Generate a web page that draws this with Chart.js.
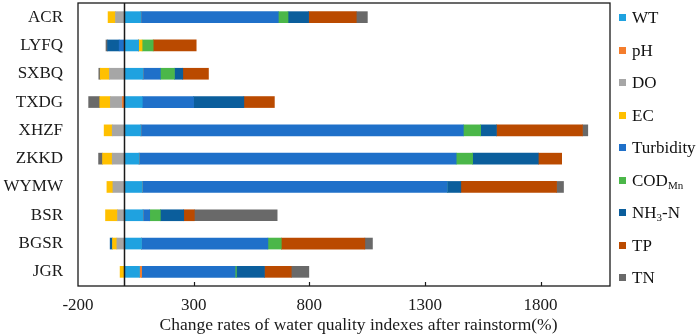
<!DOCTYPE html>
<html>
<head>
<meta charset="utf-8">
<script src="https://cdn.jsdelivr.net/npm/chart.js@4/dist/chart.umd.min.js"></script>
<style>
  html, body { margin: 0; padding: 0; background: #fff; }
  #wrap { position: relative; width: 699px; height: 336px; }
  #legend { position: absolute; left: 0; top: 0; }
  .lg-item { position: absolute; left: 619px; height: 20px; line-height: 20px; white-space: nowrap;
    font-family: "Liberation Serif", "Times New Roman", serif; font-size: 17px; color: #111; }
  .lg-box { display: inline-block; width: 7px; height: 7px; margin-right: 6px; vertical-align: 2px; }
  .lg-item sub { font-size: 11px; vertical-align: -3px; line-height: 0; }
</style>
</head>
<body>
<div id="wrap">
  <canvas id="chart" width="699" height="336"></canvas>
  <div id="legend"></div>
</div>
<script>
const sites = ['ACR', 'LYFQ', 'SXBQ', 'TXDG', 'XHZF', 'ZKKD', 'WYMW', 'BSR', 'BGSR', 'JGR'];
const xTicks = [-200, 300, 800, 1300, 1800];
const xTitle = 'Change rates of water quality indexes after rainstorm(%)';

const WT   = [72, 62, 81, 78, 72, 64, 78, 81, 75, 66];
const pH   = [0, 0, 0, -8, 0, 0, 0, 0, 0, 9];
const DO   = [-38, 0, -64, -52, -52, -52, -49, -29, -32, 0];
const EC   = [-32, 15, -40, -46, -35, -42, -26, -52, -19, -18];
const TURB = [594, -22, 75, 222, 1394, 1371, 1319, 29, 546, 404];
const COD  = [42, 48, 61, 0, 75, 71, 0, 46, 58, 6];
const NH3  = [89, -50, 36, 217, 68, 284, 58, 101, -10, 121];
const TP   = [206, 186, 111, 132, 372, 101, 414, 46, 361, 116];
const TN   = [48, -7, -6, -48, 23, -17, 30, 358, 33, 76];

const series = [
  { label: 'WT', html: 'WT', data: WT, color: '#1FA2E0' },
  { label: 'pH', html: 'pH', data: pH, color: '#F47D2C' },
  { label: 'DO', html: 'DO', data: DO, color: '#A6A6A6' },
  { label: 'EC', html: 'EC', data: EC, color: '#FFC000' },
  { label: 'Turbidity', html: 'Turbidity', data: TURB, color: '#1F70C9' },
  { label: 'CODMn', html: 'COD<sub>Mn</sub>', data: COD, color: '#4BB749' },
  { label: 'NH3-N', html: 'NH<sub>3</sub>-N', data: NH3, color: '#0B5E9C' },
  { label: 'TP', html: 'TP', data: TP, color: '#BA4A00' },
  { label: 'TN', html: 'TN', data: TN, color: '#696969' }
];

const FONT = '"Liberation Serif", "Times New Roman", serif';
const INK = '#1a1a1a';

// frame, zero line, inward x ticks and the axis title
const framePlugin = {
  id: 'frame',
  afterDatasetsDraw(chart) {
    const { ctx, chartArea: a, scales: { x } } = chart;
    ctx.save();
    ctx.strokeStyle = INK;
    ctx.lineWidth = 1.3;
    ctx.strokeRect(a.left, a.top, a.right - a.left, a.bottom - a.top);
    const x0 = Math.round(x.getPixelForValue(0)) + 0.5;
    ctx.lineWidth = 1.5;
    ctx.beginPath();
    ctx.moveTo(x0, a.top);
    ctx.lineTo(x0, a.bottom);
    ctx.stroke();
    ctx.lineWidth = 1.2;
    xTicks.slice(1).forEach(v => {
      const px = Math.round(x.getPixelForValue(v)) + 0.5;
      ctx.beginPath();
      ctx.moveTo(px, a.bottom);
      ctx.lineTo(px, a.bottom - 4);
      ctx.stroke();
    });
    ctx.fillStyle = INK;
    ctx.font = '17.5px ' + FONT;
    ctx.textAlign = 'center';
    ctx.textBaseline = 'middle';
    ctx.fillText(xTitle, 358.5, 325.5);
    ctx.restore();
  }
};

const noPad = sc => { sc.paddingLeft = 0; sc.paddingRight = 0; sc.paddingTop = 0; sc.paddingBottom = 0; };

new Chart(document.getElementById('chart'), {
  type: 'bar',
  data: {
    labels: sites,
    datasets: series.map(s => ({
      label: s.label, data: s.data, backgroundColor: s.color,
      borderWidth: 0, barThickness: 11
    }))
  },
  options: {
    indexAxis: 'y',
    responsive: false, animation: false,
    layout: { padding: { left: 3.5, right: 89, top: 3, bottom: 0 } },
    plugins: { legend: { display: false }, tooltip: { enabled: false } },
    scales: {
      x: {
        stacked: true, min: -200, max: 2100,
        afterBuildTicks: sc => { sc.ticks = xTicks.map(v => ({ value: v })); },
        afterFit: sc => { noPad(sc); sc.height = 50; },
        grid: { display: false, drawTicks: false },
        border: { display: false },
        ticks: { padding: 9, color: INK, font: { family: FONT, size: 17, lineHeight: 1.2 }, maxRotation: 0,
          callback: v => String(v) },
        title: { display: false }
      },
      y: {
        stacked: true,
        afterFit: sc => { noPad(sc); sc.width = 74.5; },
        grid: { display: false, drawTicks: false },
        border: { display: false },
        ticks: { padding: 15, color: INK, font: { family: FONT, size: 17 } }
      }
    }
  },
  plugins: [framePlugin]
});

const legend = document.getElementById('legend');
series.forEach((s, i) => {
  const el = document.createElement('div');
  el.className = 'lg-item';
  el.style.top = (18.3 + i * 32.5 - 10) + 'px';
  el.innerHTML = `<span class="lg-box" style="background:${s.color}"></span>${s.html}`;
  legend.appendChild(el);
});
</script>
</body>
</html>
